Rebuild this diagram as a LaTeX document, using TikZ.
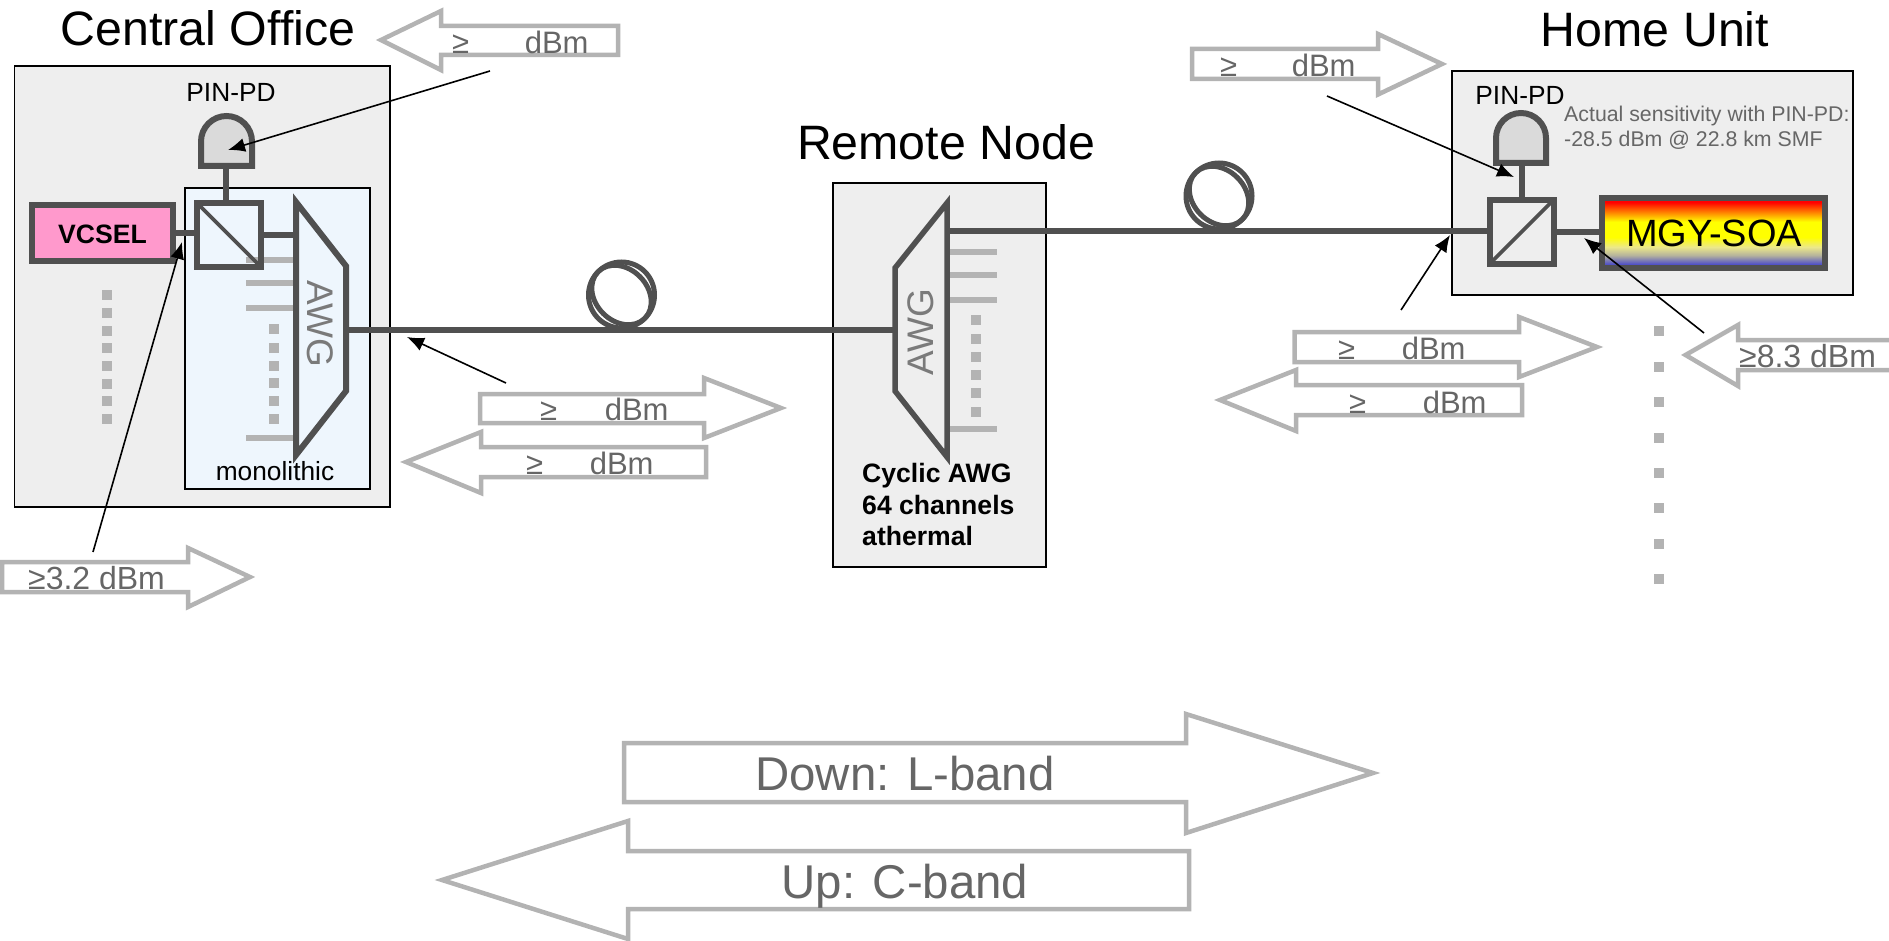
\documentclass[tikz,border=0pt]{standalone}
\usepackage{fontspec}
\setmainfont{Liberation Sans}
\usetikzlibrary{arrows.meta}
\definecolor{dk}{HTML}{505050}
\definecolor{lg}{HTML}{B3B3B3}
\definecolor{tx}{HTML}{666666}
\definecolor{panel}{HTML}{EEEEEE}
\definecolor{mono}{HTML}{EEF6FD}
\definecolor{pdf}{HTML}{DADADA}
\definecolor{pinkv}{HTML}{FF99CC}
\definecolor{soab}{HTML}{4C4CC8}
\definecolor{soag}{HTML}{B4B29C}
\definecolor{soat}{HTML}{ECE88A}
\pgfdeclareverticalshading{soagrad}{100bp}{
 color(0bp)=(soab); color(27.5bp)=(soab); color(34bp)=(soag); color(40bp)=(soat); color(47bp)=(yellow);
 color(58bp)=(yellow); color(72bp)=(red); color(100bp)=(red)}
\newcommand{\fs}[1]{\fontsize{#1}{#1}\selectfont}
\newcommand{\gedbm}[1]{≥\hspace*{#1pt}dBm}
\tikzset{
 x=1pt,y=-1pt,
 panelbox/.style={draw=black,line width=1.6pt,fill=panel,inner sep=0pt,outer sep=0pt},
 title/.style={font=\fs{48.3},text=black,inner sep=0pt},
 small/.style={font=\fs{26.3},text=black,inner sep=0pt},
 boldtxt/.style={font=\fs{26.6}\bfseries,text=black,inner sep=0pt},
 awgtxt/.style={font=\fs{37},text=black!52,inner sep=0pt},
 fiber/.style={draw=dk,line width=6.5pt},
 dkline/.style={draw=dk,line width=6pt,line join=miter},
 chan/.style={draw=lg,line width=5.5pt},
 dot/.style={fill=lg,draw=none,minimum size=10pt,inner sep=0pt,outer sep=0pt},
 fat/.style={draw=lg,line width=4.5pt,line join=miter},
 fattxt/.style={font=\fs{31},text=tx,inner sep=0pt,anchor=west},
 bigtxt/.style={font=\fs{47.4},text=tx,inner sep=0pt},
 callout/.style={draw=black,line width=1.6pt,-{Latex[length=17pt,width=14pt]}},
 coil/.style={draw=dk,line width=5pt},
 splitter/.style={draw=dk,line width=6pt,inner sep=0pt,outer sep=0pt,minimum width=64pt,minimum height=64pt},
}
\begin{document}
\begin{tikzpicture}
\useasboundingbox (0,0) rectangle (1889,941);
% panels
\node[panelbox,minimum width=375.5pt,minimum height=441pt] (co) at (202.25,286.5) {};
\node[panelbox,fill=mono,minimum width=185pt,minimum height=301pt] (mono) at (277.5,338.5) {};
\node[panelbox,minimum width=213pt,minimum height=384pt] (rn) at (939.5,375) {};
\node[panelbox,minimum width=401pt,minimum height=224pt] (hu) at (1652.5,183) {};
% titles
\node[title] (tco) at (208,28) {Central Office};
\node[title] (trn) at (946,142) {Remote Node};
\node[title] (thu) at (1655,29) {Home Unit};
% Central office
\node[small] (pin1) at (231,92) {PIN-PD};
\node[small] (monot) at (275,471) {monolithic};
\node[draw=dk,line width=6pt,fill=pinkv,minimum width=141pt,minimum height=56pt,inner sep=0pt,outer sep=0pt] (vcsel) at (102.5,233) {};
\node[boldtxt] (vcselt) at (102.5,234) {VCSEL};
\foreach \y in {260,283,308,438} \draw[chan] (246,\y) -- (293,\y);
\node[splitter] (sp1) at (229,235) {};
\draw[draw=dk,line width=3.6pt] (sp1.north west) -- (sp1.south east);
\coordinate (pd1a) at (201,166); \coordinate (pd1b) at (252,166);
\draw[dkline,fill=pdf] (pd1a) -- (201,141.5) arc[start angle=180,end angle=360,radius=25.5] -- (pd1b) -- cycle;
\coordinate (pd1s) at (226,166);
\draw[dkline] (pd1s) -- (pd1s |- sp1.north);
\draw[dkline] (vcsel.east) -- (sp1.west |- vcsel.east);
\coordinate (aw1a) at (296,202); \coordinate (aw1b) at (346,266); \coordinate (aw1c) at (346,391); \coordinate (aw1d) at (296,455);
\draw[dkline] (sp1.east) -- (sp1.east -| aw1a);
\draw[dkline] (aw1a) -- (aw1b) -- (aw1c) -- (aw1d) -- cycle;
\node[awgtxt,rotate=-90] (awg1) at (320,324) {AWG};
\foreach \y in {329,348,366,383,401,419} \node[dot] at (274,\y) {};
\foreach \y in {295,313,331,348,366,384,401,419} \node[dot] at (107,\y) {};
% Remote node
\coordinate (aw2a) at (947,203); \coordinate (aw2b) at (895,268); \coordinate (aw2c) at (895,391); \coordinate (aw2d) at (947,457);
\foreach \y in {252,275,300,429} \draw[chan] (950,\y) -- (997,\y);
\draw[dkline,line width=5.5pt] (aw2a) -- (aw2b) -- (aw2c) -- (aw2d) -- cycle;
\node[awgtxt,rotate=90] (awg2) at (920.5,332) {AWG};
\foreach \y in {320,339,357,375,393,412} \node[dot] at (976,\y) {};
\node[boldtxt,anchor=base west] (rnt1) at (862,482) {Cyclic AWG};
\node[boldtxt,anchor=base west] (rnt2) at (862,514) {64 channels};
\node[boldtxt,anchor=base west] (rnt3) at (862,545) {athermal};
% Home unit
\node[small] (pin2) at (1520,95) {PIN-PD};
\node[font=\fs{21.3},text=tx,inner sep=0pt,anchor=west] (act1) at (1564,115.5) {Actual sensitivity with PIN-PD:};
\node[font=\fs{21.3},text=tx,inner sep=0pt,anchor=west] (act2) at (1564,140) {-28.5 dBm @ 22.8 km SMF};
\node[splitter] (sp2) at (1521.5,232) {};
\draw[draw=dk,line width=3.6pt] (sp2.south west) -- (sp2.north east);
\coordinate (pd2a) at (1496,163); \coordinate (pd2b) at (1546,163);
\draw[dkline,fill=pdf] (pd2a) -- (1496,138) arc[start angle=180,end angle=360,radius=25] -- (pd2b) -- cycle;
\coordinate (pd2s) at (1521.5,163);
\draw[dkline] (pd2s) -- (sp2.north);
\node[draw=dk,line width=6pt,shading=soagrad,minimum width=223pt,minimum height=70pt,inner sep=0pt,outer sep=0pt] (soa) at (1713.5,233) {};
\node[font=\fs{38},text=black,inner sep=0pt] (soat) at (1714,233) {MGY-SOA};
\draw[dkline] (sp2.east) -- (soa.west |- sp2.east);
\foreach \y in {331,367,402,438,473,508,544,579} \node[dot] at (1659,\y) {};
% Fibres
\draw[fiber] (aw1c |- 0,330) -- (aw2b |- 0,330);
\draw[coil] (621.5,295) circle[radius=33];
\draw[coil,shift={(621.5,295)},rotate=-45] (0,0) circle[x radius=33,y radius=26];
\draw[fiber] (aw2a |- 0,231) -- (sp2.west |- 0,231);
\draw[coil] (1219,196) circle[radius=33];
\draw[coil,shift={(1219,196)},rotate=-45] (0,0) circle[x radius=33,y radius=26];
% Block arrows
\draw[fat] (381,40) -- (441,11) -- (441,26) -- (618,26) -- (618,55) -- (441,55) -- (441,70) -- cycle;
\node[fattxt] (a1) at (452,42) {\gedbm{55.6}};
\draw[fat] (250,577) -- (188,548) -- (188,562) -- (2,562) -- (2,592) -- (188,592) -- (188,607) -- cycle;
\node[fattxt,font=\fs{32}] (a2) at (28,578) {≥3.2 dBm};
\draw[fat] (781,408) -- (704,378) -- (704,394) -- (480,394) -- (480,423) -- (704,423) -- (704,438) -- cycle;
\node[fattxt] (a3) at (540,409) {\gedbm{47.6}};
\draw[fat] (406,462) -- (481,432) -- (481,447) -- (706,447) -- (706,477) -- (481,477) -- (481,493) -- cycle;
\node[fattxt] (a4) at (526,463.5) {\gedbm{46.6}};
\draw[fat] (1442,64) -- (1378,34) -- (1378,49) -- (1192,49) -- (1192,79) -- (1378,79) -- (1378,94.5) -- cycle;
\node[fattxt] (a5) at (1220,65) {\gedbm{54.6}};
\draw[fat] (1597,347) -- (1519,317) -- (1519,332) -- (1294.5,332) -- (1294.5,362) -- (1519,362) -- (1519,377) -- cycle;
\node[fattxt] (a6) at (1338,348) {\gedbm{46.6}};
\draw[fat] (1220,400) -- (1296,370) -- (1296,385) -- (1522,385) -- (1522,415) -- (1296,415) -- (1296,431) -- cycle;
\node[fattxt] (a7) at (1349,402) {\gedbm{56.6}};
\draw[fat] (1889,340) -- (1738,340) -- (1738,325) -- (1685.5,355) -- (1738,386) -- (1738,370) -- (1889,370);
\node[fattxt,font=\fs{32}] (a8) at (1739,356) {≥8.3 dBm};
\draw[fat] (1373,773) -- (1186,714) -- (1186,743) -- (624,743) -- (624,802) -- (1186,802) -- (1186,833) -- cycle;
\node[bigtxt] (down) at (905,774) {Down: L-band};
\draw[fat] (442,880) -- (628,821) -- (628,851) -- (1189,851) -- (1189,909) -- (628,909) -- (628,939) -- cycle;
\node[bigtxt] (up) at (905,886) {Up: C-band};
% Callouts
\coordinate (c1s) at (490,71); \coordinate (c1e) at (228,150);
\draw[callout] (c1s) -- (c1e);
\coordinate (c2s) at (93,552); \coordinate (c2e) at (182,242);
\draw[callout] (c2s) -- (c2e);
\coordinate (c3s) at (506,383); \coordinate (c3e) at (407,337);
\draw[callout] (c3s) -- (c3e);
\coordinate (c4s) at (1327,96); \coordinate (c4e) at (1514,177);
\draw[callout] (c4s) -- (c4e);
\coordinate (c5s) at (1401,310); \coordinate (c5e) at (1450,235);
\draw[callout] (c5s) -- (c5e);
\coordinate (c6s) at (1704,333); \coordinate (c6e) at (1584,238);
\draw[callout] (c6s) -- (c6e);
\end{tikzpicture}
\end{document}
